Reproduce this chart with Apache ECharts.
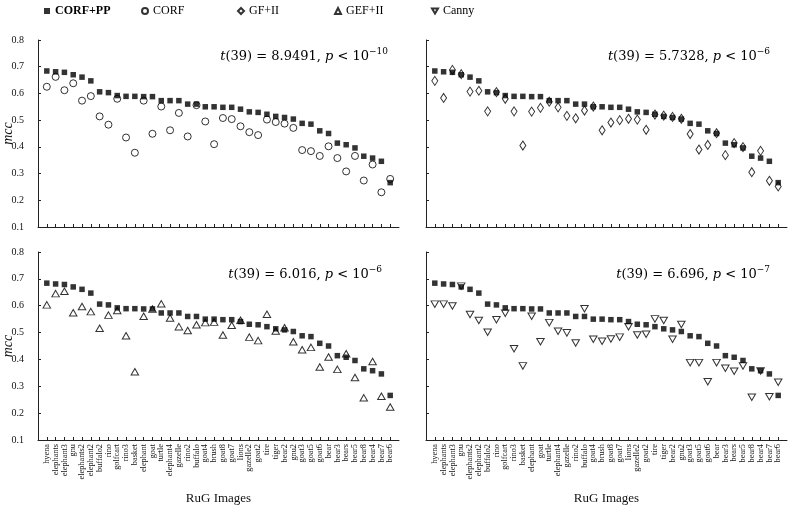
<!DOCTYPE html>
<html>
<head>
<meta charset="utf-8">
<script src="https://cdn.jsdelivr.net/npm/echarts@6/dist/echarts.min.js"></script>
<style>html,body{margin:0;padding:0;background:#fff}#c{width:790px;height:513px}</style>
</head>
<body>
<div id="c"></div>
<script>
const categories = ['hyena','elephants','elephant3','gnu','elephants2','elephant2','buffalo2','rino','golfcart','rino3','basket','elephant','goat','turtle','elephant4','gazelle','rino2','buffalo','goat4','brush','goat8','goat7','lions','gazelle2','goat2','tire','tiger','bear2','gnu2','goat3','goat5','goat6','bear','bear3','bears','bear5','bear8','bear4','bear7','bear6'];

const corfpp = [0.684,0.681,0.679,0.670,0.661,0.647,0.606,0.603,0.592,0.589,0.589,0.588,0.588,0.573,0.573,0.573,0.560,0.560,0.550,0.550,0.548,0.548,0.541,0.531,0.529,0.522,0.514,0.510,0.504,0.488,0.485,0.460,0.450,0.414,0.408,0.396,0.365,0.358,0.346,0.266];
const corf = [0.625,0.662,0.612,0.638,0.573,0.590,0.514,0.483,0.580,0.435,0.378,0.573,0.449,0.551,0.462,0.527,0.439,0.556,0.495,0.410,0.508,0.504,0.477,0.455,0.444,0.502,0.493,0.487,0.471,0.388,0.384,0.366,0.402,0.358,0.308,0.366,0.274,0.334,0.230,0.280];
const gfii = [0.647,0.583,0.688,0.672,0.607,0.610,0.533,0.605,0.580,0.533,0.405,0.532,0.546,0.569,0.548,0.516,0.507,0.536,0.551,0.462,0.491,0.500,0.505,0.502,0.464,0.521,0.517,0.512,0.505,0.448,0.390,0.407,0.451,0.369,0.414,0.399,0.305,0.385,0.273,0.252];
const gefii = [0.603,0.645,0.654,0.574,0.597,0.578,0.516,0.565,0.582,0.488,0.354,0.561,0.588,0.607,0.554,0.522,0.508,0.529,0.537,0.539,0.491,0.527,0.546,0.483,0.470,0.568,0.506,0.518,0.466,0.436,0.445,0.372,0.409,0.363,0.421,0.333,0.257,0.392,0.263,0.223];
const canny = [0.606,0.606,0.599,0.673,0.567,0.545,0.501,0.548,0.572,0.440,0.376,0.561,0.466,0.537,0.505,0.499,0.461,0.589,0.475,0.468,0.476,0.483,0.522,0.491,0.494,0.551,0.545,0.475,0.530,0.388,0.388,0.317,0.388,0.367,0.356,0.376,0.259,0.357,0.261,0.315];

const stats = [
  {t:'8.9491', p:'−10'},
  {t:'5.7328', p:'−6'},
  {t:'6.016', p:'−6'},
  {t:'6.696', p:'−7'}
];

const FONT = 'Liberation Serif';
const MATH = 'DejaVu Serif';
const toPts = arr => arr.map((v,i)=>[i+1, v]);
const tickPos = categories.map((c,i)=>i+1);

const grids = [
  {left:38, top:40, width:361, height:187},
  {left:426, top:40, width:361, height:187},
  {left:38, top:252, width:361, height:188},
  {left:426, top:252, width:361, height:188}
].map(g=>Object.assign(g, {containLabel:false, outerBoundsMode:'none'}));

const axisLineStyle = {color:'#222', width:1};

const xAxes = grids.map((g,k)=>({
  gridIndex:k, type:'value', min:0, max:41,
  splitLine:{show:false},
  axisLine:{show:true, onZero:false, lineStyle:axisLineStyle},
  axisTick:{show:true, inside:true, length:3, customValues:tickPos, lineStyle:axisLineStyle},
  axisLabel:{show:k>=2, customValues:tickPos, rotate:90, margin:4, fontFamily:FONT, fontSize:8.3, lineHeight:7, color:'#111',
    showMinLabel:true, showMaxLabel:true, hideOverlap:false, interval:0,
    formatter:v=>categories[Math.round(v)-1] || ''},
  name:k>=2?'RuG Images':'', nameLocation:'middle', nameGap:52,
  nameTextStyle:{fontFamily:FONT, fontSize:13, color:'#111'}
}));

const yAxes = grids.map((g,k)=>({
  gridIndex:k, type:'value', min:0.1, max:0.8, interval:0.1,
  splitLine:{show:false},
  axisLine:{show:true, onZero:false, lineStyle:axisLineStyle},
  axisTick:{show:true, inside:true, length:3, lineStyle:axisLineStyle},
  axisLabel:{show:k%2===0, margin:14, fontFamily:FONT, fontSize:10, color:'#111',
    showMinLabel:true, showMaxLabel:true, formatter:v=>v.toFixed(1)},
  name:k%2===0?'mcc':'', nameLocation:'middle', nameGap:23, nameMoveOverlap:false,
  nameTextStyle:{fontFamily:FONT, fontSize:14, fontStyle:'italic', color:'#111'}
}));

const hollow = {color:'rgba(255,255,255,0)', borderColor:'#000', borderWidth:1};
const invTri = 'path://M0,0L10,0L5,8.5Z';

const series = [];
for (let k=0;k<4;k++){
  series.push({name:'CORF+PP', type:'scatter', xAxisIndex:k, yAxisIndex:k, data:toPts(corfpp),
    symbol:'rect', symbolSize:5.5, itemStyle:{color:'#000'}, z:2});
}
series.push({name:'CORF', type:'scatter', xAxisIndex:0, yAxisIndex:0, data:toPts(corf), symbol:'circle', symbolSize:7, itemStyle:hollow, z:3});
series.push({name:'GF+II', type:'scatter', xAxisIndex:1, yAxisIndex:1, data:toPts(gfii), symbol:'diamond', symbolSize:[6,9], itemStyle:hollow, z:3});
series.push({name:'GEF+II', type:'scatter', xAxisIndex:2, yAxisIndex:2, data:toPts(gefii), symbol:'triangle', symbolSize:[7.5,6.5], itemStyle:hollow, z:3});
series.push({name:'Canny', type:'scatter', xAxisIndex:3, yAxisIndex:3, data:toPts(canny), symbol:invTri, symbolSize:[7.5,6.5], itemStyle:hollow, z:3});

const legendItems = [
  {name:'CORF+PP', left:44, bold:true},
  {name:'CORF', left:141},
  {name:'GF+II', left:237},
  {name:'GEF+II', left:334},
  {name:'Canny', left:431}
];
const legends = legendItems.map(l=>({
  data:[{name:l.name, textStyle:{fontWeight:l.bold?'bold':'normal'}}],
  left:l.left, top:5, padding:0, itemWidth:6, itemHeight:6, itemGap:0,
  textStyle:{fontFamily:FONT, fontSize:12, color:'#000', padding:[0,0,0,0]},
  selectedMode:false
}));

const textPos = [
  {x:388, y:55}, {x:770, y:55}, {x:382, y:273}, {x:770, y:273}
];
const graphics = stats.map((s,k)=>({
  type:'text', x:textPos[k].x, y:textPos[k].y,
  style:{
    text:'{i|t}{n|(39) = '+s.t+', }{i|p}{n| < 10}{s|'+s.p+'}',
    align:'right', verticalAlign:'middle',
    rich:{
      i:{fontFamily:MATH, fontSize:13, fontStyle:'italic', fill:'#000', verticalAlign:'bottom', lineHeight:16},
      n:{fontFamily:MATH, fontSize:13, fill:'#000', verticalAlign:'bottom', lineHeight:16},
      s:{fontFamily:MATH, fontSize:9, fill:'#000', verticalAlign:'top', lineHeight:10}
    }
  }
}));

const chart = echarts.init(document.getElementById('c'), null, {renderer:'canvas'});
chart.setOption({
  animation:false,
  backgroundColor:'#fff',
  grid:grids,
  xAxis:xAxes,
  yAxis:yAxes,
  legend:legends,
  series:series,
  graphic:graphics
});
</script>
</body>
</html>
